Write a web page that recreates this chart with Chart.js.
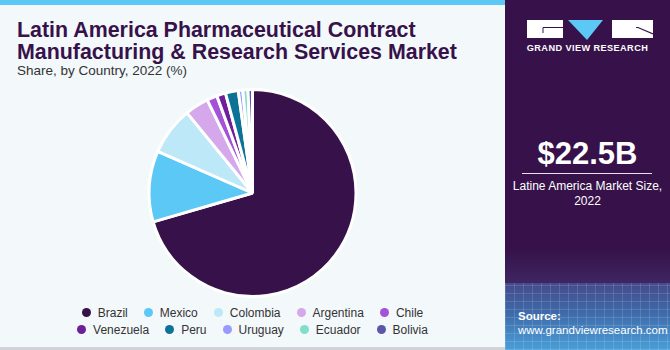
<!DOCTYPE html>
<html>
<head>
<meta charset="utf-8">
<script src="https://cdn.jsdelivr.net/npm/chart.js@4.4.0/dist/chart.umd.min.js"></script>
<style>
  html, body { margin: 0; padding: 0; }
  body { width: 670px; height: 350px; position: relative; overflow: hidden; background: #f3f8fb; font-family: "Liberation Sans", Arial, sans-serif; }
  #topbar { position: absolute; left: 0; top: 0; width: 505px; height: 5px; background: #5bc8f5; }
  #bottomline { position: absolute; left: 0; top: 347px; width: 505px; height: 3px; background: #d0d4d8; }
  #title { position: absolute; left: 17px; top: 19px; color: #37124a; font-weight: bold; font-size: 21.4px; line-height: 22px; }
  #subtitle { position: absolute; left: 17px; top: 63px; color: #333; font-size: 13.5px; }
  #chartbox { position: absolute; left: 0; top: 88px; width: 505px; height: 210px; }
  #legend { position: absolute; left: 0; width: 505px; top: 304px; font-size: 12px; color: #333; }
  .lrow { display: flex; justify-content: center; column-gap: 16px; height: 17px; align-items: center; }
  .litem { display: flex; align-items: center; }
  .ldot { width: 9px; height: 9px; border-radius: 50%; margin-right: 7px; }
  #side { position: absolute; left: 505px; top: 0; width: 165px; height: 350px;
    background: linear-gradient(to bottom, #37124a 0px, #37124a 250px, #3f2562 283px); color: #fff; }
  #grid { position: absolute; left: 0; top: 283px; width: 165px; height: 67px;
    background:
      repeating-linear-gradient(90deg, rgba(255,255,255,0.13) 0px, rgba(255,255,255,0.13) 1px, transparent 1px, transparent 9px),
      repeating-linear-gradient(0deg, rgba(255,255,255,0.13) 0px, rgba(255,255,255,0.13) 1px, transparent 1px, transparent 8px),
      linear-gradient(to bottom, #444a8a 0px, #3f6aaa 30px, #4a9fd8 67px); }
  #gvr { position: absolute; left: 22px; top: 20px; }
  #brand { position: absolute; left: 0; width: 165px; top: 43px; text-align: center; font-size: 9.2px; font-weight: bold; letter-spacing: 0.4px; }
  #size { position: absolute; left: 0; width: 165px; top: 136px; text-align: center; font-size: 31px; font-weight: bold; }
  #rule { position: absolute; left: 17px; width: 130px; top: 173px; height: 1px; background: #e8e0ee; }
  #sizelbl { position: absolute; left: 0; width: 165px; top: 179px; text-align: center; font-size: 12px; line-height: 15px; }
  #src { position: absolute; left: 13px; top: 309px; font-size: 11.5px; line-height: 14px; }
</style>
</head>
<body>
<div id="topbar"></div>
<div id="title">Latin America Pharmaceutical Contract<br>Manufacturing &amp; Research Services Market</div>
<div id="subtitle">Share, by Country, 2022 (%)</div>
<div id="chartbox"><canvas id="pie"></canvas></div>
<div id="legend"></div>
<div id="bottomline"></div>
<div id="side">
  <div id="grid"></div>
  <svg id="gvr" width="126" height="21" viewBox="0 0 126 21">
    <rect x="0" y="0" width="36" height="18" fill="#fff"/>
    <polyline points="16,13 16,7.5 36,7.5" fill="none" stroke="#37124a" stroke-width="1"/>
    <polygon points="41,0 76,0 60,20" fill="#5bc8f5"/>
    <rect x="85" y="0" width="41" height="18" fill="#fff"/>
    <polyline points="109,7.5 111,7.5 126,14" fill="none" stroke="#37124a" stroke-width="1.2"/>
  </svg>
  <div id="brand">GRAND VIEW RESEARCH</div>
  <div id="size">$22.5B</div>
  <div id="rule"></div>
  <div id="sizelbl">Latine America Market Size,<br>2022</div>
  <div id="src"><b>Source:</b><br>www.grandviewresearch.com</div>
</div>
<script>
// country shares, 2022 (%)
const countries = ["Brazil", "Mexico", "Colombia", "Argentina", "Chile", "Venezuela", "Peru", "Uruguay", "Ecuador", "Bolivia"];
const shares = [70.5, 11.1, 7.5, 3.7, 1.6, 1.4, 2.0, 0.7, 0.8, 0.7];
const sliceColors = ["#37124a", "#5bc8f5", "#bde8f7", "#d4a8ea", "#a553d6", "#6e1f9a", "#0d7396", "#9999ff", "#7fdfcb", "#5b57a6"];

// legend in two rows of five
function buildLegend(){
    let box = document.getElementById("legend");
    for (let r = 0; r < 2; r++){
        let row = document.createElement("div");
        row.className = "lrow";
        for (let i = r * 5; i < r * 5 + 5; i++){
            let item = document.createElement("div");
            item.className = "litem";
            let dot = document.createElement("span");
            dot.className = "ldot";
            dot.style.background = sliceColors[i];
            item.appendChild(dot);
            item.appendChild(document.createTextNode(countries[i]));
            row.appendChild(item);
        }
        box.appendChild(row);
    }
}

window.onload = function(){
    buildLegend();
    let ctx = document.getElementById("pie");
    let grafico = new Chart(ctx, {
        type: "pie",
        data: {
            labels: countries,
            datasets: [{
                data: shares,
                backgroundColor: sliceColors,
                borderColor: "#ffffff",
                borderWidth: 3
            }]
        },
        options: {
            responsive: true,
            maintainAspectRatio: false,
            animation: false,
            plugins: {
                tooltip: { enabled: false },
                legend: { display: false }
            }
        }
    });
}
</script>
</body>
</html>
